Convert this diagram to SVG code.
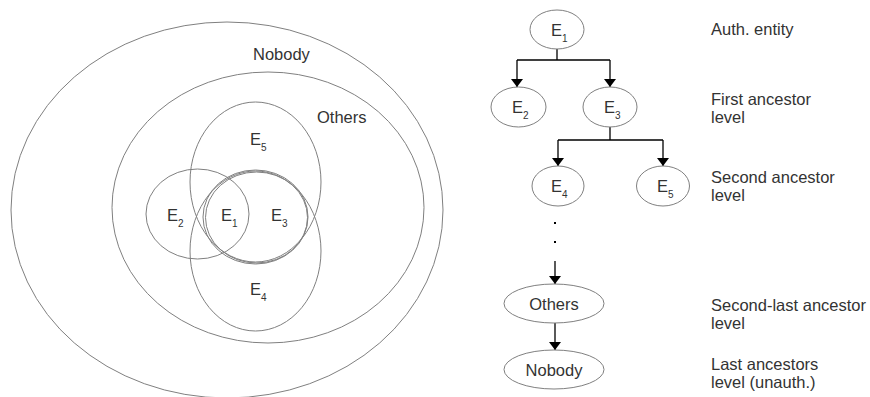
<svg xmlns="http://www.w3.org/2000/svg" width="870" height="397" viewBox="0 0 870 397">
<defs>
<style>
.sh{fill:none;stroke:#808080;stroke-width:1}
.t{font-family:"Liberation Sans",Arial,sans-serif;font-size:16.5px;fill:#333}
.s{font-size:10px}
.c{fill:none;stroke:#000;stroke-width:1.3}
</style>
<marker id="ah" viewBox="0 0 8 12" refX="8" refY="6" markerWidth="8" markerHeight="12" markerUnits="userSpaceOnUse" orient="auto">
<path d="M0,0 L8,6 L0,12 Z" fill="#000"/>
</marker>
</defs>
<rect width="870" height="397" fill="#fff"/>

<!-- Venn diagram -->
<g id="venn-nobody"><ellipse class="sh" cx="227" cy="210" rx="216" ry="188"/><text class="t" x="253" y="60">Nobody</text></g>
<g id="venn-others"><ellipse class="sh" cx="268" cy="207.5" rx="156" ry="135.5"/><text class="t" x="317" y="123">Others</text></g>
<g id="venn-e5"><ellipse class="sh" cx="255.5" cy="182" rx="65.5" ry="80"/><text class="t" x="250" y="145">E<tspan class="s" dy="6">5</tspan></text></g>
<g id="venn-e4"><ellipse class="sh" cx="255.5" cy="251" rx="65.5" ry="80"/><text class="t" x="250" y="295">E<tspan class="s" dy="6">4</tspan></text></g>
<g id="venn-e2"><ellipse class="sh" cx="197.5" cy="214" rx="51.5" ry="45"/><text class="t" x="167" y="221">E<tspan class="s" dy="6">2</tspan></text></g>
<g id="venn-e3"><ellipse class="sh" cx="255.5" cy="217" rx="52.5" ry="47"/><text class="t" x="271" y="221">E<tspan class="s" dy="6">3</tspan></text></g>
<g id="venn-e1"><ellipse class="sh" cx="256.5" cy="217.5" rx="51" ry="45.5"/><text class="t" x="221" y="221">E<tspan class="s" dy="6">1</tspan></text></g>

<!-- Tree connectors -->
<g id="connectors">
<path class="c" d="M557,49 V60 M517,60 H610"/>
<path class="c" d="M517,60 V87" marker-end="url(#ah)"/>
<path class="c" d="M610,60 V87" marker-end="url(#ah)"/>
<path class="c" d="M610,127 V140 M558,140 H663"/>
<path class="c" d="M558,140 V166" marker-end="url(#ah)"/>
<path class="c" d="M663,140 V166" marker-end="url(#ah)"/>
<path class="c" d="M555,261 V284" marker-end="url(#ah)"/>
<path class="c" d="M555,323 V350" marker-end="url(#ah)"/>
<rect x="554" y="222" width="2" height="2" fill="#000"/>
<rect x="554" y="241" width="2" height="2" fill="#000"/>
</g>

<!-- Tree nodes -->
<g id="t-e1"><ellipse class="sh" cx="557" cy="29.5" rx="27" ry="19.5"/><text class="t" x="551" y="36">E<tspan class="s" dy="6">1</tspan></text></g>
<g id="t-e2"><ellipse class="sh" cx="518.5" cy="107" rx="27.5" ry="20"/><text class="t" x="512" y="113">E<tspan class="s" dy="6">2</tspan></text></g>
<g id="t-e3"><ellipse class="sh" cx="610" cy="107" rx="27" ry="20"/><text class="t" x="604" y="113">E<tspan class="s" dy="6">3</tspan></text></g>
<g id="t-e4"><ellipse class="sh" cx="558" cy="186" rx="26" ry="20"/><text class="t" x="551" y="192">E<tspan class="s" dy="6">4</tspan></text></g>
<g id="t-e5"><ellipse class="sh" cx="663" cy="186" rx="26.5" ry="20"/><text class="t" x="657" y="192">E<tspan class="s" dy="6">5</tspan></text></g>
<g id="t-others"><ellipse class="sh" cx="554" cy="303.5" rx="50" ry="19.5"/><text class="t" x="554" y="309.5" text-anchor="middle">Others</text></g>
<g id="t-nobody"><ellipse class="sh" cx="554" cy="369.5" rx="50" ry="19.5"/><text class="t" x="554" y="375.5" text-anchor="middle">Nobody</text></g>

<!-- Level labels -->
<g id="levels">
<text class="t" x="711" y="35">Auth. entity</text>
<text class="t" x="711" y="105">First ancestor<tspan x="711" dy="18">level</tspan></text>
<text class="t" x="711" y="183">Second ancestor<tspan x="711" dy="18">level</tspan></text>
<text class="t" x="711" y="311">Second-last ancestor<tspan x="711" dy="18">level</tspan></text>
<text class="t" x="711" y="370">Last ancestors<tspan x="711" dy="18">level (unauth.)</tspan></text>
</g>
</svg>
